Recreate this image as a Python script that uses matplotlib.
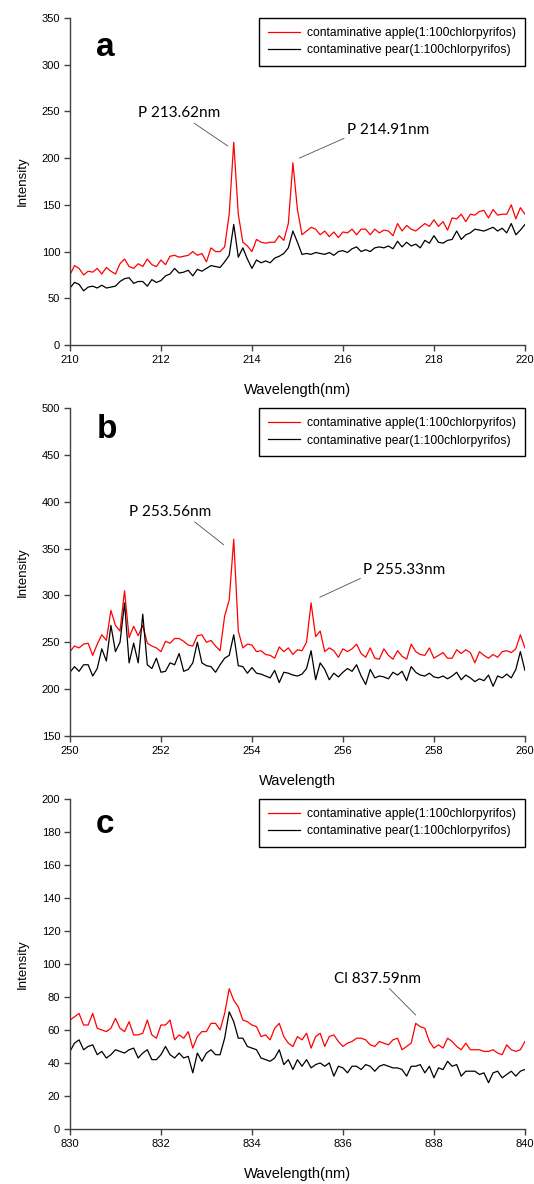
import numpy as np
import matplotlib.pyplot as plt

plt.rcParams['font.family'] = ['Liberation Sans', 'DejaVu Sans']

# wavelength grids (0.1 nm sampling)
wl_a = np.linspace(210, 220, 101)
wl_b = np.linspace(250, 260, 101)
wl_c = np.linspace(830, 840, 101)

apple_a = [75, 85, 82, 75, 79, 78, 82, 76, 83, 79,
           76, 87, 92, 84, 82, 87, 84, 92, 86, 84,
           91, 86, 95, 96, 94, 95, 96, 100, 96, 98,
           89, 104, 100, 100, 105, 140, 217, 140, 110, 106,
           100, 113, 110, 109, 110, 110, 117, 112, 130, 195,
           145, 118, 122, 126, 124, 118, 122, 116, 121, 115,
           121, 120, 124, 118, 124, 124, 118, 124, 120, 123,
           122, 117, 130, 122, 128, 124, 122, 126, 130, 127,
           134, 127, 132, 123, 136, 135, 140, 132, 140, 139,
           143, 144, 136, 145, 139, 140, 140, 150, 135, 147,
           140]
pear_a = [61, 67, 65, 58, 62, 63, 61, 64, 61, 62,
          63, 68, 71, 72, 66, 68, 68, 63, 70, 67,
          69, 74, 76, 82, 77, 78, 80, 74, 81, 79,
          82, 85, 84, 83, 89, 96, 129, 94, 104, 92,
          82, 91, 88, 90, 88, 93, 95, 98, 104, 122,
          110, 97, 98, 97, 99, 98, 97, 99, 96, 100,
          101, 99, 103, 105, 100, 102, 100, 104, 105, 104,
          106, 103, 111, 105, 110, 106, 108, 104, 112, 109,
          117, 110, 109, 112, 113, 122, 113, 118, 120, 124,
          123, 122, 124, 126, 122, 125, 120, 130, 118, 123,
          129]

apple_b = [240, 246, 244, 248, 249, 236, 248, 258, 252, 284,
           268, 262, 305, 255, 267, 257, 268, 249, 246, 244,
           240, 251, 249, 254, 254, 251, 247, 246, 257, 258,
           250, 252, 246, 241, 278, 295, 360, 262, 244, 248,
           247, 240, 241, 237, 236, 233, 245, 240, 244, 237,
           242, 241, 250, 292, 256, 262, 240, 244, 241, 234,
           243, 240, 243, 248, 238, 234, 244, 233, 232, 243,
           236, 232, 241, 235, 232, 248, 240, 237, 236, 244,
           233, 236, 239, 233, 233, 242, 238, 242, 239, 228,
           240, 236, 233, 237, 234, 240, 241, 239, 243, 258,
           244]
pear_b = [218, 224, 219, 226, 226, 214, 222, 243, 230, 268,
          240, 250, 292, 228, 249, 228, 280, 226, 222, 233,
          218, 219, 228, 226, 238, 219, 221, 228, 250, 228,
          225, 224, 218, 226, 233, 236, 258, 225, 224, 217,
          223, 217, 216, 214, 212, 220, 207, 218, 217, 215,
          214, 216, 222, 241, 210, 228, 221, 210, 217, 213,
          218, 222, 219, 226, 214, 205, 221, 212, 214, 213,
          211, 218, 215, 219, 209, 224, 218, 215, 214, 217,
          213, 212, 214, 211, 214, 218, 210, 215, 212, 208,
          211, 209, 215, 203, 214, 212, 216, 212, 221, 240,
          220]

apple_c = [66, 68, 70, 63, 63, 70, 61, 60, 59, 61,
           67, 61, 59, 65, 57, 57, 58, 66, 57, 55,
           63, 63, 66, 54, 57, 55, 59, 49, 56, 59,
           59, 64, 64, 60, 70, 85, 78, 74, 66, 65,
           63, 62, 56, 57, 54, 61, 64, 56, 52, 50,
           56, 54, 58, 49, 56, 58, 50, 56, 57, 53,
           50, 52, 53, 55, 55, 54, 51, 50, 53, 52,
           51, 54, 55, 48, 50, 52, 64, 62, 61, 53,
           49, 51, 49, 55, 53, 50, 48, 52, 48, 48,
           48, 47, 47, 48, 46, 45, 51, 48, 47, 48,
           53]
pear_c = [47, 52, 54, 48, 50, 51, 45, 47, 43, 45,
          48, 47, 46, 48, 49, 43, 46, 48, 42, 42,
          45, 50, 45, 43, 46, 43, 44, 34, 46, 41,
          46, 48, 45, 45, 55, 71, 65, 55, 55, 50,
          49, 48, 43, 42, 41, 43, 48, 39, 42, 36,
          42, 38, 42, 37, 39, 40, 38, 40, 32, 38,
          37, 34, 38, 38, 36, 39, 38, 35, 38, 39,
          38, 37, 37, 36, 32, 38, 38, 39, 34, 38,
          31, 37, 36, 41, 38, 39, 32, 35, 35, 35,
          33, 34, 28, 34, 35, 31, 33, 35, 32, 35,
          36]

labels = ['contaminative apple(1:100chlorpyrifos)',
          'contaminative pear(1:100chlorpyrifos)']

# (text, peak point, text centre, relpos of leader on text)
notes_a = [('P 213.62nm', (213.47, 213), (212.40, 248), (0.63, 0)),
           ('P 214.91nm', (215.04, 200), (216.99, 230), (0, 0))]
notes_b = [('P 253.56nm', (253.38, 354), (252.21, 389), (0.75, 0)),
           ('P 255.33nm', (255.49, 298), (257.35, 327), (0, 0))]
notes_c = [('Cl 837.59nm', (837.60, 69), (836.77, 91), (0.6, 0))]


def draw_panel(ax, wl, apple, pear, ylim, ystep, letter, letter_pos, xlabel, notes):
    ax.plot(wl, apple, color='#ff0000', lw=0.9, label=labels[0])
    ax.plot(wl, pear, color='black', lw=0.9, label=labels[1])
    ax.set_xlim(wl[0], wl[-1])
    ax.set_ylim(*ylim)
    ax.set_xticks(np.arange(wl[0], wl[-1] + 1, 2))
    ax.set_yticks(np.arange(ylim[0], ylim[1] + 1, ystep))
    for side in ['top', 'right']:
        ax.spines[side].set_visible(False)
    for side in ['left', 'bottom']:
        ax.spines[side].set_color('#404040')
        ax.spines[side].set_linewidth(1.0)
    ax.tick_params(direction='out', length=4, width=1.0, color='#404040', labelsize=8, pad=3)
    ax.set_xlabel(xlabel, fontsize=10.5, labelpad=13)
    ax.set_ylabel('Intensity', fontsize=9.5, labelpad=9)
    ax.text(*letter_pos, letter, transform=ax.transAxes, fontsize=24, fontweight='bold',
            ha='center', va='center')
    leg = ax.legend(loc='upper right', bbox_to_anchor=(1.0, 1.0), borderaxespad=0,
                    fontsize=8.7, fancybox=False, edgecolor='black', framealpha=1,
                    handlelength=2.6, handletextpad=0.6, borderpad=0.75,
                    labelspacing=0.45)
    leg.get_frame().set_linewidth(1.0)
    for text, peak, pos, rel in notes:
        ax.annotate(text, xy=peak, xytext=pos, ha='center', va='center',
                    fontsize=11, family=['Lato', 'DejaVu Sans'],
                    arrowprops=dict(arrowstyle='-', color='#505050', lw=0.6,
                                    relpos=rel, shrinkA=0, shrinkB=0))


fig = plt.figure(figsize=(5.34, 11.84), dpi=100)
ax_a = fig.add_axes([0.131, 0.7086, 0.852, 0.2762])
ax_b = fig.add_axes([0.131, 0.3784, 0.852, 0.2770])
ax_c = fig.add_axes([0.131, 0.0465, 0.852, 0.2787])

draw_panel(ax_a, wl_a, apple_a, pear_a, (0, 350), 50, 'a', (0.077, 0.911),
           'Wavelength(nm)', notes_a)
draw_panel(ax_b, wl_b, apple_b, pear_b, (150, 500), 50, 'b', (0.081, 0.933),
           'Wavelength', notes_b)
draw_panel(ax_c, wl_c, apple_c, pear_c, (0, 200), 20, 'c', (0.077, 0.924),
           'Wavelength(nm)', notes_c)

fig.savefig('out.png', dpi=100)
